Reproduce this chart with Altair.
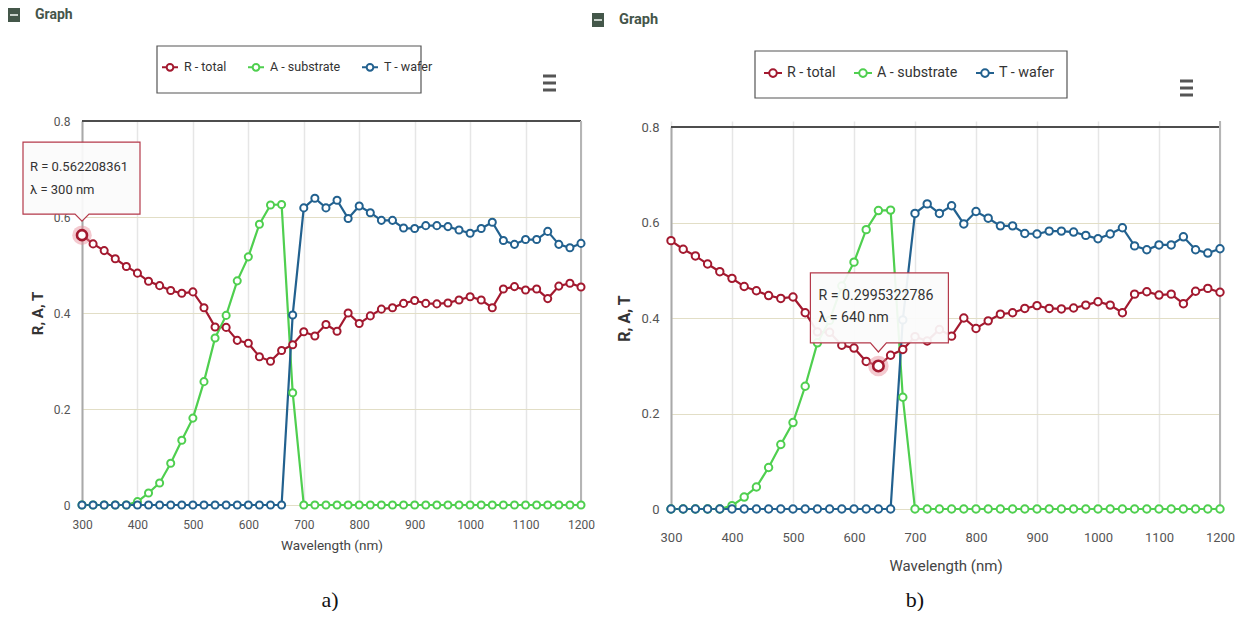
import altair as alt
import pandas as pd

# ---------------- data ----------------
wavelength_nm = [300, 320, 340, 360, 380, 400, 420, 440, 460, 480,
                 500, 520, 540, 560, 580, 600, 620, 640, 660, 680,
                 700, 720, 740, 760, 780, 800, 820, 840, 860, 880,
                 900, 920, 940, 960, 980, 1000, 1020, 1040, 1060, 1080,
                 1100, 1120, 1140, 1160, 1180, 1200]

r_total = [0.562, 0.544, 0.530, 0.513, 0.497, 0.483, 0.466, 0.457, 0.447, 0.441,
           0.444, 0.411, 0.371, 0.370, 0.343, 0.337, 0.309, 0.2995, 0.322, 0.334,
           0.361, 0.352, 0.376, 0.362, 0.400, 0.378, 0.394, 0.408, 0.411, 0.420,
           0.426, 0.420, 0.419, 0.421, 0.427, 0.434, 0.427, 0.411, 0.450, 0.455,
           0.448, 0.450, 0.430, 0.456, 0.462, 0.454]

a_substrate = [0.0, 0.0, 0.0, 0.0, 0.0, 0.007, 0.025, 0.046, 0.087, 0.135,
               0.181, 0.257, 0.348, 0.395, 0.467, 0.517, 0.585, 0.625, 0.626, 0.234,
               0.0, 0.0, 0.0, 0.0, 0.0, 0.0, 0.0, 0.0, 0.0, 0.0,
               0.0, 0.0, 0.0, 0.0, 0.0, 0.0, 0.0, 0.0, 0.0, 0.0,
               0.0, 0.0, 0.0, 0.0, 0.0, 0.0]

t_wafer = [0.0, 0.0, 0.0, 0.0, 0.0, 0.0, 0.0, 0.0, 0.0, 0.0,
           0.0, 0.0, 0.0, 0.0, 0.0, 0.0, 0.0, 0.0, 0.0, 0.396,
           0.619, 0.639, 0.619, 0.635, 0.597, 0.623, 0.609, 0.593, 0.593, 0.577,
           0.576, 0.582, 0.582, 0.580, 0.573, 0.566, 0.576, 0.589, 0.551, 0.543,
           0.553, 0.553, 0.570, 0.543, 0.536, 0.545]

series_names = ["R - total", "A - substrate", "T - wafer"]
series_colors = ["#a3192f", "#4fcf4f", "#22618f"]

x_ticks = [300, 400, 500, 600, 700, 800, 900, 1000, 1100, 1200]
y_ticks = [0, 0.2, 0.4, 0.6, 0.8]

highlight_wl = [300, 640]
highlight_text = ["0.562208361", "0.2995322786"]
captions = ["a)", "b)"]

rows = []
for name, vals in zip(series_names, [r_total, a_substrate, t_wafer]):
    for w, v in zip(wavelength_nm, vals):
        rows.append({"wl": w, "val": v, "series": name})
df = pd.DataFrame(rows)

FONT = "Roboto, Liberation Sans, sans-serif"
SERIF = "Liberation Serif, DejaVu Serif, serif"


def legend_symbol():
    return ("M-1,0 L-0.42,0 M0.42,0 L1,0 "
            "M-0.42,0 A0.42,0.42 0 1,1 0.42,0 A0.42,0.42 0 1,1 -0.42,0")


def panel(cfg):
    W, H = cfg["w"], cfg["h"]
    if cfg["yrange"]:
        ysc = alt.Scale(domain=[0, 0.8], nice=False, range=cfg["yrange"])
    else:
        ysc = alt.Scale(domain=[0, 0.8], nice=False)
    xsc = alt.Scale(domain=[300, 1200], nice=False, zero=False)

    x_axis = alt.Axis(values=x_ticks, format="d", title="Wavelength (nm)",
                      labelFlush=False, ticks=False, tickSize=0, domain=False,
                      grid=True, gridColor="#e6e6e6", gridWidth=1.5,
                      labelFont=FONT, labelFontSize=cfg["fs"], labelColor="#555",
                      labelPadding=cfg["xlp"], titleFont=FONT,
                      titleFontSize=cfg["xtfs"], titleFontWeight="normal",
                      titleColor="#444", titleY=cfg["xty"], titleBaseline="middle")
    y_axis = alt.Axis(values=y_ticks, format="~g", title="R, A, T",
                      ticks=False, tickSize=0, domain=True, domainColor="#a9a9a9",
                      domainWidth=2, grid=True, gridColor="#e2dec6", gridWidth=1,
                      labelFont=FONT, labelFontSize=cfg["fs"], labelColor="#555",
                      labelPadding=12, titleFont=FONT, titleFontSize=cfg["ytfs"],
                      titleFontWeight="bold", titleColor="#333", titleAngle=-90,
                      titleX=cfg["ytx"], titleY=cfg["yty"], titleAlign="center",
                      titleBaseline="middle")

    legend = alt.Legend(orient="none", legendX=cfg["lgx"], legendY=cfg["lgy"],
                        direction="horizontal", title=None,
                        symbolType=legend_symbol(), symbolSize=cfg["lgsym"],
                        symbolStrokeWidth=2, symbolFillColor="white",
                        symbolOpacity=1, labelFont=FONT,
                        labelFontSize=cfg["lgfs"], labelColor="#333",
                        labelOffset=cfg["lgoff"], columnPadding=cfg["lgcol"],
                        padding=0)
    color = alt.Color("series:N",
                      scale=alt.Scale(domain=series_names, range=series_colors),
                      legend=legend)

    base = alt.Chart(df).encode(
        x=alt.X("wl:Q", scale=xsc, axis=x_axis),
        y=alt.Y("val:Q", scale=ysc, axis=y_axis),
    )

    one = alt.Chart(pd.DataFrame({"k": [0]}))

    top_rule = one.mark_rule(color="#4d4d4d", strokeWidth=2).encode(
        y=alt.datum(0.8, scale=ysc))
    right_rule = one.mark_rule(color="#b5b5b5", strokeWidth=2).encode(
        x=alt.datum(1200, scale=xsc))

    lines = base.mark_line(strokeWidth=2.2).encode(color=color,
                                                    detail="series:N")
    points = base.mark_point(filled=False, fill="white", opacity=1,
                             fillOpacity=1, size=cfg["msize"],
                             strokeWidth=2, shape="circle").encode(color=color)

    # tooltip / highlighted point
    hl = pd.DataFrame({"wl": [cfg["hwl"]],
                       "val": [float(cfg["htext"])],
                       "l1": ["R = " + cfg["htext"]],
                       "l2": ["\u03bb = %d nm" % cfg["hwl"]]})
    hb = alt.Chart(hl).encode(x=alt.X("wl:Q", scale=xsc),
                              y=alt.Y("val:Q", scale=ysc))
    halo = hb.mark_point(shape="circle", filled=True, color="#e78a97",
                         opacity=0.45, size=cfg["halo"], strokeWidth=0)
    hpoint = hb.mark_point(shape="circle", filled=False, fill="white",
                           fillOpacity=1, opacity=1, color=series_colors[0],
                           size=cfg["hsize"], strokeWidth=2.6)
    callout = hb.mark_point(shape=cfg["callout"], size=4, filled=True,
                            fill="#fbfbfb", fillOpacity=0.93, stroke="#b4394a",
                            strokeWidth=1.2, opacity=1)
    t1 = hb.mark_text(align="left", baseline="middle", font=FONT,
                      fontSize=cfg["ttfs"], color="#333",
                      dx=cfg["tdx"], dy=cfg["tdy1"]).encode(text="l1:N")
    t2 = hb.mark_text(align="left", baseline="middle", font=FONT,
                      fontSize=cfg["ttfs"], color="#333",
                      dx=cfg["tdx"], dy=cfg["tdy2"]).encode(text="l2:N")

    # chrome: header, legend frame, menu icon, caption
    lb = cfg["lbox"]
    legend_box = one.mark_rect(fill="white", stroke="#555", strokeWidth=1.2).encode(
        x=alt.value(lb[0]), x2=alt.value(lb[1]), y=alt.value(lb[2]), y2=alt.value(lb[3]))
    ic = cfg["icon"]
    icon = one.mark_rect(fill="#44574a").encode(
        x=alt.value(ic[0]), x2=alt.value(ic[1]), y=alt.value(ic[2]), y2=alt.value(ic[3]))
    icon_bar = one.mark_rule(color="#c9d2cb", strokeWidth=2).encode(
        x=alt.value(ic[0] + 2), x2=alt.value(ic[1] - 2),
        y=alt.value((ic[2] + ic[3]) / 2))
    gt = cfg["gtitle"]
    graph_title = one.mark_text(text="Graph", align="left", baseline="middle",
                                font=FONT, fontSize=cfg["gfs"], fontWeight="bold",
                                color="#45554a").encode(x=alt.value(gt[0]),
                                                        y=alt.value(gt[1]))
    mn = cfg["menu"]
    menu = [one.mark_rule(color="#555", strokeWidth=3).encode(
        x=alt.value(mn[0]), x2=alt.value(mn[1]), y=alt.value(yy)) for yy in mn[2]]
    cp = cfg["cap"]
    caption = one.mark_text(text=cfg["caption"], align="center", baseline="middle",
                            font=SERIF, fontSize=22, color="#111").encode(
        x=alt.value(cp[0]), y=alt.value(cp[1]))

    layers = [legend_box, top_rule, right_rule, lines, points, halo, hpoint,
              callout, t1, t2, icon, icon_bar, graph_title, caption] + menu
    return alt.layer(*layers).properties(width=W, height=H)


left_cfg = dict(
    w=499, h=384, yrange=None, fs=12, xtfs=13.5, ytfs=15, xlp=14, xty=40,
    ytx=-45, yty=192,
    lgx=79, lgy=-63, lgsym=256, lgfs=12.5, lgoff=5, lgcol=17,
    msize=50, hwl=highlight_wl[0], htext=highlight_text[0], halo=380, hsize=100,
    callout="M-59,-93 L58,-93 L58,-21 L7,-21 L0,-14 L-7,-21 L-59,-21 Z",
    ttfs=13, tdx=-52, tdy1=-68, tdy2=-45,
    lbox=[75, 339, -75, -28], icon=[-74, -62, -113, -99], gtitle=[-47, -106],
    gfs=14, menu=[461, 474, [-45, -38, -31]], caption=captions[0], cap=[248, 479],
)
right_cfg = dict(
    w=549, h=388, yrange=[388, 6], fs=13, xtfs=15, ytfs=16, xlp=22, xty=56,
    ytx=-47, yty=197,
    lgx=92, lgy=-58, lgsym=324, lgfs=14.3, lgoff=4, lgcol=14,
    msize=55, hwl=highlight_wl[1], htext=highlight_text[1], halo=420, hsize=110,
    callout="M-68,-93 L70,-93 L70,-23 L8,-23 L0,-14 L-8,-23 L-68,-23 Z",
    ttfs=14.2, tdx=-60, tdy1=-70, tdy2=-48,
    lbox=[84, 396, -70, -23], icon=[-79, -67, -108, -94], gtitle=[-52, -101],
    gfs=14.6, menu=[509, 522, [-40, -33, -26]], caption=captions[1], cap=[244, 479],
)

chart = alt.hconcat(panel(left_cfg), panel(right_cfg), spacing=90, bounds="flush").resolve_scale(
    color="independent"
).properties(
    padding={"left": 8, "top": 8, "right": 0, "bottom": 0},
    background="white",
).configure_view(stroke=None)

chart.save("out.html", embed_options={"renderer": "svg", "actions": False})
